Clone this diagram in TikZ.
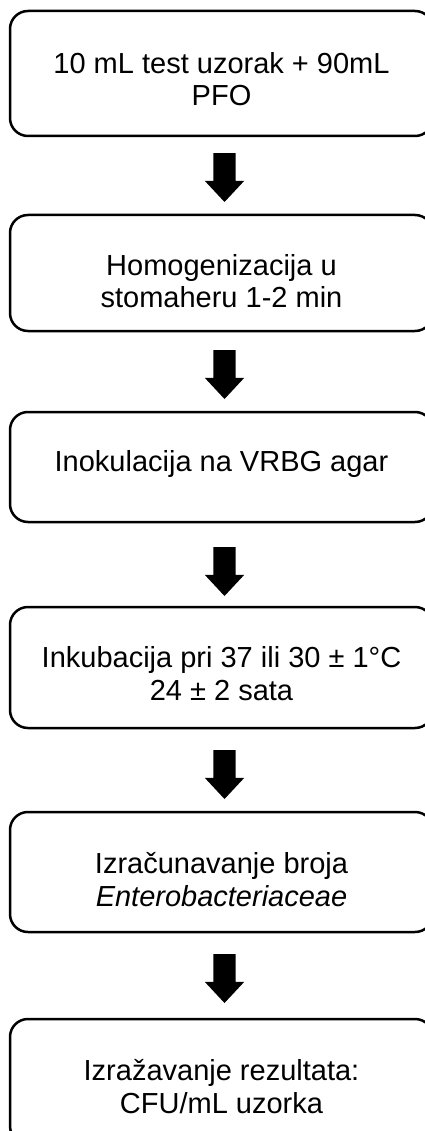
\documentclass[tikz,border=0pt]{standalone}
\usepackage{fontspec}
\setmainfont{Liberation Sans}
\usetikzlibrary{shapes.arrows}
\begin{document}
\begin{tikzpicture}[x=1pt,y=-1pt,
  stepbox/.style={draw=black, line width=2.5pt, rounded corners=18pt, rectangle, minimum width=423pt, inner sep=0pt},
  steptext/.style={anchor=base, inner sep=0pt, font=\fontsize{29}{32.5}\selectfont},
  blockarrow/.style={single arrow, fill=black, draw=none, inner xsep=0pt, inner ysep=11pt, minimum height=49pt, single arrow head extend=8.5pt, single arrow tip angle=86, single arrow head indent=0pt, rotate=-90}]
\useasboundingbox (0,0) rectangle (425,1131);
\clip (0,0) rectangle (425,1131);
% boxes
\node[stepbox, minimum height=125pt] (b1) at (221.5,73.5) {};
\node[stepbox, minimum height=116pt] (b2) at (221.5,273) {};
\node[stepbox, minimum height=110pt] (b3) at (221.5,467) {};
\node[stepbox, minimum height=121pt] (b4) at (221.5,667.5) {};
\node[stepbox, minimum height=120pt] (b5) at (221.5,872) {};
\node[stepbox, minimum height=125pt] (b6) at (221.5,1081.5) {};
% texts
\node[steptext] (t1) at (221.5,73.5) {\begin{tabular}[t]{@{}c@{}}10 mL test uzorak + 90mL\\PFO\end{tabular}};
\node[steptext] (t2) at (221.5,275.5) {\begin{tabular}[t]{@{}c@{}}Homogenizacija u\\stomaheru 1-2 min\end{tabular}};
\node[steptext] (t3) at (221.5,471.5) {\begin{tabular}[t]{@{}c@{}}Inokulacija na VRBG agar\end{tabular}};
\node[steptext] (t4) at (221.5,667.5) {\begin{tabular}[t]{@{}c@{}}Inkubacija pri 37 ili 30 ± 1°C\\24 ± 2 sata\end{tabular}};
\node[steptext] (t5) at (221.5,873.5) {\begin{tabular}[t]{@{}c@{}}Izračunavanje broja\\\textit{Enterobacteriaceae}\end{tabular}};
\node[steptext] (t6) at (221.5,1080.5) {\begin{tabular}[t]{@{}c@{}}Izražavanje rezultata:\\CFU/mL uzorka\end{tabular}};
% arrows
\node[blockarrow] (a1) at (224.5,171.5) {};
\node[blockarrow] (a2) at (224.5,368.5) {};
\node[blockarrow] (a3) at (224.5,565.5) {};
\node[blockarrow] (a4) at (224.5,768.5) {};
\node[blockarrow] (a5) at (224.5,972.5) {};
\end{tikzpicture}
\end{document}
